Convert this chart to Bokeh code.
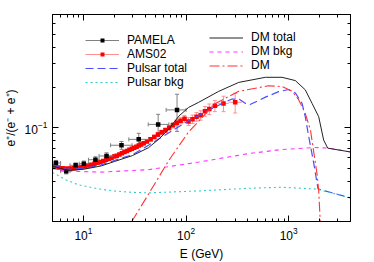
from bokeh.plotting import figure
from bokeh.models import (ColumnDataSource, FixedTicker, LogAxis, Legend, LegendItem,
                          Whisker, TeeHead, CustomJSTickFormatter)
from bokeh.embed import file_html
from bokeh.resources import INLINE

# ---------------- data ----------------
# PAMELA positron fraction
pam_E = [5.4, 6.8, 8.4, 10.1, 13.1, 16.8, 23.5, 34.6, 53.5, 81.7]
pam_lo = [4.9, 6.0, 7.4, 9.1, 11.2, 14.2, 18.4, 27.7, 42.8, 64.0]
pam_hi = [6.0, 7.4, 9.1, 11.2, 14.2, 19.6, 29.8, 43.4, 68.0, 100.0]
pam_val = [0.0546, 0.0475, 0.0525, 0.0540, 0.0578, 0.0616, 0.0741, 0.0820, 0.106, 0.136]
pam_err = [0.0025, 0.0022, 0.0022, 0.0025, 0.0030, 0.0035, 0.0050, 0.0090, 0.0200, 0.0420]

# AMS02 positron fraction
ams_edges = [5.00, 5.50, 6.00, 6.56, 7.16, 7.80, 8.50, 9.21, 9.95, 10.73, 11.54, 12.39,
             13.27, 14.19, 15.15, 16.15, 17.18, 18.25, 19.37, 20.54, 21.76, 23.07, 24.45,
             25.87, 27.34, 28.87, 30.45, 32.10, 33.80, 35.57, 37.41, 40.00, 43.39, 47.08,
             51.11, 55.52, 60.34, 65.61, 71.39, 77.74, 84.73, 92.45, 100.98, 110.43,
             120.92, 132.62, 145.70, 160.40, 176.98, 206.00, 260.00, 350.00]
ams_E = [5.24, 5.74, 6.27, 6.85, 7.47, 8.14, 8.85, 9.57, 10.33, 11.13, 11.96, 12.82,
         13.72, 14.66, 15.64, 16.66, 17.71, 18.80, 19.95, 21.14, 22.40, 23.75, 25.15,
         26.60, 28.10, 29.65, 31.26, 32.94, 34.67, 36.48, 38.68, 41.66, 45.20, 49.06,
         53.27, 57.88, 62.92, 68.44, 74.50, 81.16, 88.51, 96.62, 105.6, 115.6, 126.6,
         139.0, 152.9, 168.5, 190.9, 231.5, 301.0]
ams_val = [0.0515, 0.0505, 0.0500, 0.0497, 0.0497, 0.0500, 0.0503, 0.0510, 0.0515, 0.0523,
           0.0530, 0.0540, 0.0549, 0.0556, 0.0566, 0.0577, 0.0588, 0.0598, 0.0610, 0.0620,
           0.0633, 0.0647, 0.0659, 0.0671, 0.0685, 0.0697, 0.0710, 0.0723, 0.0738, 0.0752,
           0.0768, 0.0790, 0.0820, 0.0855, 0.0890, 0.0925, 0.0960, 0.1000, 0.1045, 0.1090,
           0.1130, 0.1170, 0.1115, 0.1160, 0.1210, 0.1240, 0.1330, 0.1380, 0.1460, 0.1520,
           0.1550]
ams_err = [0.0006, 0.0006, 0.0006, 0.0006, 0.0006, 0.0006, 0.0006, 0.0007, 0.0007, 0.0008,
           0.0008, 0.0008, 0.0009, 0.0009, 0.0009, 0.0010, 0.0010, 0.0011, 0.0011, 0.0012,
           0.0012, 0.0013, 0.0013, 0.0014, 0.0015, 0.0015, 0.0016, 0.0017, 0.0018, 0.0019,
           0.0020, 0.0022, 0.0024, 0.0027, 0.0030, 0.0034, 0.0038, 0.0043, 0.0048, 0.0054,
           0.0060, 0.0067, 0.0075, 0.0083, 0.0090, 0.0100, 0.0110, 0.0125, 0.0140, 0.0200,
           0.0260]

# Model curves
pt_E = [5, 6.5, 8, 10, 14, 20, 30, 43, 65, 100, 150, 210, 280, 330, 380, 420, 600, 800,
        1000, 1160, 1350, 1450, 1550, 1750, 1930, 4000]
pulsar_total = [0.053, 0.0495, 0.049, 0.050, 0.052, 0.057, 0.063, 0.074, 0.090, 0.110,
                0.130, 0.148, 0.164, 0.163, 0.152, 0.149, 0.170, 0.186, 0.193, 0.182,
                0.152, 0.121, 0.090, 0.055, 0.035, 0.030]

pb_E = [5, 6.7, 9, 14, 20, 30, 43, 133, 408, 855, 1820, 1960, 4000]
pulsar_bkg = [0.0465, 0.041, 0.0375, 0.035, 0.0338, 0.033, 0.0327, 0.0338, 0.0354, 0.036,
              0.035, 0.0346, 0.030]

db_E = [5, 7.2, 14.7, 43, 133, 408, 855, 1820, 2450, 4000]
dm_bkg = [0.0496, 0.0475, 0.0467, 0.0487, 0.0555, 0.0642, 0.0689, 0.0713, 0.0705, 0.066]

dt_E = [5, 7, 10, 15, 20, 30, 43, 55, 68, 85, 106, 133, 208, 326, 593, 860, 1160, 1450,
        1690, 1960, 2190, 2400, 4000]
dm_total = [0.052, 0.048, 0.049, 0.052, 0.056, 0.062, 0.071, 0.083, 0.098, 0.122, 0.142,
            0.155, 0.187, 0.218, 0.238, 0.238, 0.225, 0.192, 0.152, 0.121, 0.081, 0.0705,
            0.066]

dm_E = [29.6, 43.4, 68, 106, 193, 326, 636, 860, 1080, 1250, 1450, 1630, 1890, 1960, 2000,
        2040]
dm = [0.020, 0.0323, 0.0572, 0.0933, 0.152, 0.187, 0.206, 0.203, 0.187, 0.162, 0.128,
      0.096, 0.045, 0.034, 0.025, 0.018]

x_major = [10, 100, 1000]
x_minor = [6, 7, 8, 9, 20, 30, 40, 50, 60, 70, 80, 90, 200, 300, 400, 500, 600, 700, 800,
           900, 2000, 3000, 4000]
y_major = [0.1]
y_minor = [0.02, 0.03, 0.04, 0.05, 0.06, 0.07, 0.08, 0.09, 0.2, 0.3, 0.4, 0.5, 0.6, 0.7]

FONT = "Liberation Sans"

p = figure(frame_width=298, frame_height=207, x_axis_type="log", y_axis_type="log",
           x_range=(5, 4000), y_range=(0.02, 0.7),
           output_backend="svg", toolbar_location=None,
           min_border_left=45, min_border_right=12, min_border_top=14, min_border_bottom=30)
p.xgrid.visible = False
p.ygrid.visible = False
p.outline_line_color = "black"
p.background_fill_color = "white"


def style_axis(ax, major, minor, labels=True):
    ax.ticker = FixedTicker(ticks=major, minor_ticks=minor)
    ax.major_tick_in = 6
    ax.major_tick_out = 0
    ax.minor_tick_in = 3
    ax.minor_tick_out = 0
    ax.axis_line_color = "black"
    ax.major_tick_line_color = "black"
    ax.minor_tick_line_color = "black"
    ax.major_label_text_font = FONT
    if labels:
        ax.major_label_text_color = "black"
        ax.major_label_text_font_size = "12px"
        ax.major_label_standoff = 5
    else:
        ax.formatter = CustomJSTickFormatter(code="return ''")
        ax.major_label_text_font_size = "1px"
        ax.major_label_standoff = 0


style_axis(p.xaxis[0], x_major, x_minor)
style_axis(p.yaxis[0], y_major, y_minor)
p.xaxis[0].axis_label = "E (GeV)"
p.yaxis[0].axis_label = "e\u207a/(e\u207b + e\u207a)"
for ax in (p.xaxis[0], p.yaxis[0]):
    ax.axis_label_text_font = FONT
    ax.axis_label_text_font_size = "12px"
    ax.axis_label_text_font_style = "normal"
    ax.axis_label_text_color = "black"
    ax.axis_label_standoff = 4

top = LogAxis()
style_axis(top, x_major, x_minor, labels=False)
p.add_layout(top, "above")
right = LogAxis()
style_axis(right, y_major, y_minor, labels=False)
p.add_layout(right, "right")

# ---------------- data points ----------------
pam = ColumnDataSource(dict(E=pam_E, lo=pam_lo, hi=pam_hi, v=pam_val,
                            vlo=[v - e for v, e in zip(pam_val, pam_err)],
                            vhi=[v + e for v, e in zip(pam_val, pam_err)]))
ams = ColumnDataSource(dict(E=ams_E, lo=ams_edges[:-1], hi=ams_edges[1:], v=ams_val,
                            vlo=[v - e for v, e in zip(ams_val, ams_err)],
                            vhi=[v + e for v, e in zip(ams_val, ams_err)]))

PAM_ERR = "#808080"
AMS_ERR = "#ff9090"

ams_xseg = p.segment(x0="lo", x1="hi", y0="v", y1="v", source=ams, line_color=AMS_ERR, line_width=1)
p.add_layout(Whisker(base="E", lower="vlo", upper="vhi", source=ams, dimension="height",
                     line_color=AMS_ERR, line_width=1,
                     upper_head=TeeHead(size=4, line_color=AMS_ERR),
                     lower_head=TeeHead(size=4, line_color=AMS_ERR)))
ams_pts = p.scatter(x="E", y="v", source=ams, marker="square", size=4.5,
                    fill_color="#ff0000", line_color=None)

pam_xseg = p.segment(x0="lo", x1="hi", y0="v", y1="v", source=pam, line_color=PAM_ERR, line_width=1)
p.add_layout(Whisker(base="E", lower="vlo", upper="vhi", source=pam, dimension="height",
                     line_color=PAM_ERR, line_width=1,
                     upper_head=TeeHead(size=4, line_color=PAM_ERR),
                     lower_head=TeeHead(size=4, line_color=PAM_ERR)))
p.add_layout(Whisker(base="v", lower="lo", upper="hi", source=pam, dimension="width",
                     line_alpha=0,
                     upper_head=TeeHead(size=4, line_color=PAM_ERR),
                     lower_head=TeeHead(size=4, line_color=PAM_ERR)))
pam_pts = p.scatter(x="E", y="v", source=pam, marker="square", size=4.5,
                    fill_color="black", line_color=None)

# ---------------- model curves ----------------
r_pt = p.line(pt_E, pulsar_total, line_color="#4d4dff", line_width=1.2, line_dash="8 4")
r_pb = p.line(pb_E, pulsar_bkg, line_color="#33cccc", line_width=1.1, line_dash="2 3")
r_db = p.line(db_E, dm_bkg, line_color="#ff33ff", line_width=1.1, line_dash="4 4")
r_dt = p.line(dt_E, dm_total, line_color="#222222", line_width=1)
r_dm = p.line(dm_E, dm, line_color="#ff3333", line_width=1.1, line_dash="10 3 2 3")

leg_kw = dict(background_fill_alpha=0, border_line_color=None, padding=0, margin=0,
              label_standoff=8, glyph_width=34, label_text_font=FONT,
              label_text_font_size="12px", label_text_color="black")

leg1 = Legend(items=[LegendItem(label="PAMELA", renderers=[pam_xseg, pam_pts]),
                     LegendItem(label="AMS02", renderers=[ams_xseg, ams_pts]),
                     LegendItem(label="Pulsar total", renderers=[r_pt]),
                     LegendItem(label="Pulsar bkg", renderers=[r_pb])],
              location=(33, 132), glyph_height=10, label_height=12, spacing=-2, **leg_kw)
leg2 = Legend(items=[LegendItem(label="DM total", renderers=[r_dt]),
                     LegendItem(label="DM bkg", renderers=[r_db]),
                     LegendItem(label="DM", renderers=[r_dm])],
              location=(157, 149), glyph_height=13, label_height=13, spacing=-1, **leg_kw)
p.add_layout(leg1)
p.add_layout(leg2)

open("out.html", "w").write(file_html(p, INLINE))
